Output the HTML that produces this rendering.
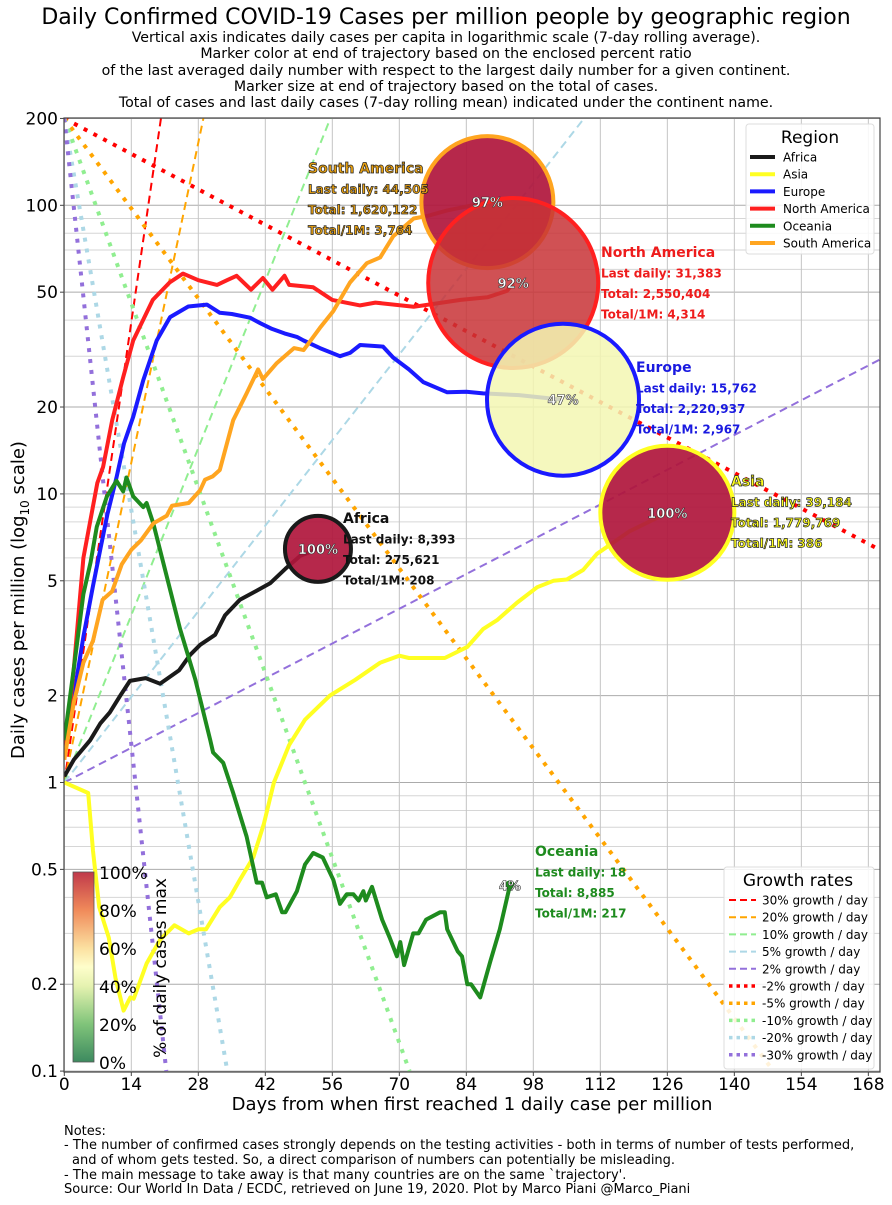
<!DOCTYPE html>
<html><head><meta charset="utf-8">
<style>
body{margin:0;background:#fff;}
svg text{font-family:"DejaVu Sans","Liberation Sans",sans-serif;}
</style></head>
<body>
<svg id="chart" width="892" height="1200" viewBox="0 0 892 1200" xmlns="http://www.w3.org/2000/svg">
<defs>
<clipPath id="plotclip"><rect x="64" y="118" width="816" height="954"/></clipPath>
<linearGradient id="cbgrad" x1="0" y1="1" x2="0" y2="0">
<stop offset="0" stop-color="#3d8a5f"/>
<stop offset="0.2" stop-color="#80c47a"/>
<stop offset="0.4" stop-color="#e5f2b0"/>
<stop offset="0.5" stop-color="#fefecb"/>
<stop offset="0.6" stop-color="#fbe0a0"/>
<stop offset="0.8" stop-color="#f08a5a"/>
<stop offset="1" stop-color="#c0394a"/>
</linearGradient>
</defs>
<text x="446" y="24" font-size="22" text-anchor="middle">Daily Confirmed COVID-19 Cases per million people by geographic region</text>
<g font-size="14.2" text-anchor="middle">
<text x="446" y="42">Vertical axis indicates daily cases per capita in logarithmic scale (7-day rolling average).</text>
<text x="446" y="58">Marker color at end of trajectory based on the enclosed percent ratio</text>
<text x="446" y="75">of the last averaged daily number with respect to the largest daily number for a given continent.</text>
<text x="446" y="91">Marker size at end of trajectory based on the total of cases.</text>
<text x="446" y="107">Total of cases and last daily cases (7-day rolling mean) indicated under the continent name.</text>
</g>
<g id="grid"></g>
<g id="growth" clip-path="url(#plotclip)"></g>
<g id="series" clip-path="url(#plotclip)"></g>
<g id="bubbles"></g>
<g id="blabels"></g>
<rect x="64" y="118" width="816" height="954" fill="none" stroke="#444" stroke-width="1.2"/>
<g id="axes"></g>
<text transform="translate(24,600) rotate(-90)" font-size="18" text-anchor="middle">Daily cases per million (log<tspan font-size="12" dy="5">10</tspan><tspan dy="-5"> scale)</tspan></text>
<text x="472" y="1110" font-size="18" text-anchor="middle">Days from when first reached 1 daily case per million</text>
<g>
<rect x="73" y="872" width="21" height="190" fill="url(#cbgrad)" stroke="#555" stroke-width="0.8"/>
<g font-size="17">
<text x="99" y="879">100%</text><text x="99" y="917">80%</text><text x="99" y="955">60%</text>
<text x="99" y="993">40%</text><text x="99" y="1031">20%</text><text x="99" y="1069">0%</text>
</g>
<text transform="translate(166,968) rotate(-90)" font-size="17" text-anchor="middle">% of daily cases max</text>
</g>
<g>
<rect x="746" y="124" width="128" height="130" fill="#fff" fill-opacity="0.85" stroke="#ddd" rx="3"/>
<text x="810" y="143" font-size="17" text-anchor="middle">Region</text>
<g id="reglegend" font-size="12"></g>
</g>
<g>
<rect x="724" y="867" width="150" height="202" fill="#fff" fill-opacity="0.85" stroke="#ddd" rx="3"/>
<text x="798" y="886" font-size="17" text-anchor="middle">Growth rates</text>
<g id="grlegend" font-size="12"></g>
</g>
<g font-size="13">
<text x="64" y="1135">Notes:</text>
<text x="64" y="1149">- The number of confirmed cases strongly depends on the testing activities - both in terms of number of tests performed,</text>
<text x="72" y="1164">and of whom gets tested. So, a direct comparison of numbers can potentially be misleading.</text>
<text x="64" y="1179">- The main message to take away is that many countries are on the same `trajectory'.</text>
<text x="64" y="1193">Source: Our World In Data / ECDC, retrieved on June 19, 2020. Plot by Marco Piani @Marco_Piani</text>
</g>
</svg>
<script>
const NS='http://www.w3.org/2000/svg';
const xTicks=[0,14,28,42,56,70,84,98,112,126,140,154,168];
const yMajor=[0.1,0.2,0.5,1,2,5,10,20,50,100,200];
const yMajorLabels=['0.1','0.2','0.5','1','2','5','10','20','50','100','200'];
const yMinor=[0.3,0.4,0.6,0.7,0.8,0.9,3,4,6,7,8,9,30,40,60,70,80,90];
const growthRates=[0.30,0.20,0.10,0.05,0.02,-0.02,-0.05,-0.10,-0.20,-0.30];
const growthColors=['#ff0000','#ffa500','#90ee90','#add8e6','#9370db','#ff0000','#ffa500','#90ee90','#add8e6','#9370db'];
const regionNames=['Africa','Asia','Europe','North America','Oceania','South America'];
const regionColors=['#1a1a1a','#ffff22','#1a1aff','#ff2020','#1e8b1e','#ffa520'];

const africaDays=[0,2,5.4,7.5,9.5,11.7,13.7,17,20,24,26.3,28.4,31.5,33.6,36.7,40,43,46.2,49.3,53];
const africaVals=[1.05,1.2,1.4,1.6,1.75,2.0,2.25,2.3,2.2,2.45,2.77,3.0,3.25,3.8,4.3,4.6,4.9,5.5,6.1,6.45];
const asiaDays=[0,5,6,7.3,9.3,10.7,12.4,13.8,14.5,17.2,20,23,26,28,29.6,32.5,34.6,36.7,39.5,41.7,43.8,47,50.3,55.5,60.8,66,70,72,75.5,79.5,84.2,87.5,90.4,94.6,98.8,102.2,105,108.4,111.3,118,126];
const asiaVals=[1.0,0.92,0.58,0.37,0.29,0.21,0.162,0.18,0.178,0.236,0.285,0.32,0.30,0.31,0.31,0.37,0.40,0.46,0.55,0.72,1.0,1.35,1.65,2.0,2.27,2.6,2.75,2.7,2.7,2.7,2.95,3.4,3.65,4.2,4.75,5.0,5.05,5.45,6.2,7.4,8.6];
const europeDays=[0,2,4,6,7.5,9,10.9,12.5,14.4,16.5,19.3,22.1,25.9,29.8,32.5,35,38.8,41,43.4,46,48.6,50,53.4,57.6,59.7,61.8,66.6,68.7,72,75,80,84,87.5,95,104.2];
const europeVals=[1.3,2.0,3.2,4.8,6.4,8.5,11.4,15,18.5,24.8,34,41,44.6,45.3,42.4,42,40.8,39,37.3,36,35,34,32,30,30.8,32.8,32.4,29.7,27,24.4,22.5,22.6,22.3,22,21.2];
const namDays=[0,2,4,6.9,8.1,10,12.3,14.4,18.5,22,24.8,28,31.9,34,36,39,41.5,43.5,46,47,52,56,61.8,65,73,77,82.8,88.4,92.5,93.8];
const namVals=[1.2,2.5,6,10.9,12.4,18,25.4,34,47,54,58,55,53,55,57,51,56,51,57,53,52,47,45,46,44.5,45.5,47,48,50.5,53.8];
const oceDays=[0,2,4,5.5,6.8,8.9,10.9,12.3,13,14.4,16.5,17.2,18.6,21,24.2,27.4,30.5,31.1,33.2,35.3,38.1,40.2,41.3,42.3,44.2,45.5,46.2,48.6,50.3,52,54,56.2,57.6,59,60.4,61.5,62.5,63,64.3,66.4,68,69.5,70.2,71,72.9,74,75.6,78.5,79.5,80,82.2,83.1,84.2,85,86.9,89,91,93.1];
const oceVals=[1.4,2.5,4.5,5.8,7.7,9.8,11.1,10.2,11.4,9.8,9.0,9.3,7.9,5.5,3.4,2.27,1.4,1.27,1.17,0.92,0.65,0.45,0.45,0.40,0.41,0.355,0.355,0.42,0.52,0.57,0.55,0.46,0.38,0.41,0.41,0.39,0.42,0.39,0.435,0.335,0.29,0.25,0.28,0.233,0.3,0.3,0.335,0.355,0.355,0.31,0.26,0.25,0.20,0.20,0.18,0.24,0.31,0.44];
const samDays=[0,2,4,6,8,10,12,14,16,18.6,21.4,22.5,26,28.4,29.4,31,32.5,35.3,38.1,40.5,41.5,44.4,48,50,53.4,56.2,59.7,63.2,66,68.7,73,76,80,84,88.4];
const samVals=[1.2,1.9,2.6,3.1,4.3,4.6,5.7,6.4,6.9,7.9,8.4,9.1,9.3,10.3,11.2,11.5,12.1,18,22.3,27,25,28.4,32,31.5,37.6,43,54,63,66,78,90,92,96,99,102.6];

const xS=d=>64.3+d*4.786;
const yS=v=>782.5-Math.log10(v)*288.6;
function mk(tag,attrs,parent){const e=document.createElementNS(NS,tag);for(const k in attrs)e.setAttribute(k,attrs[k]);parent.appendChild(e);return e;}

const grid=document.getElementById('grid');
yMinor.forEach(v=>{const l=mk('line',{x1:64,x2:880,y1:yS(v),y2:yS(v),stroke:'#d6d6d6','stroke-width':1},grid);

});
yMajor.forEach(v=>{const l=mk('line',{x1:64,x2:880,y1:yS(v),y2:yS(v),stroke:'#ababab','stroke-width':1},grid);

});
xTicks.forEach(d=>{const l=mk('line',{x1:xS(d),x2:xS(d),y1:118,y2:1072,stroke:'#c4c4c4','stroke-width':1},grid);

});

const axes=document.getElementById('axes');
yMajor.forEach((v,i)=>{const t=mk('text',{x:58,y:yS(v)+6,'font-size':17,'text-anchor':'end'},axes);t.textContent=yMajorLabels[i];


mk('line',{x1:60,x2:64,y1:yS(v),y2:yS(v),stroke:'#444'},axes);});
xTicks.forEach(d=>{const t=mk('text',{x:xS(d),y:1090,'font-size':17,'text-anchor':'middle'},axes);t.textContent=String(d);


mk('line',{x1:xS(d),x2:xS(d),y1:1072,y2:1076,stroke:'#444'},axes);});

const gg=document.getElementById('growth');
growthRates.forEach((r,i)=>{
  let d0,v0,d1;
  if(r>0){d0=0;v0=1;d1=Math.log(200)/Math.log(1+r);}
  else{d0=0;v0=200;d1=Math.min(172,Math.log(0.1/200)/Math.log(1+r));}
  const v1=v0*Math.pow(1+r,d1-d0);
  const dot=r<0;
  const l=mk('line',{x1:xS(d0),y1:yS(v0),x2:xS(d1),y2:yS(v1),stroke:growthColors[i],'stroke-width':dot?4:2,'stroke-dasharray':dot?'4,7':'8,5'},gg);
  
  
});

const sg=document.getElementById('series');
const allDays=[africaDays,asiaDays,europeDays,namDays,oceDays,samDays];
const allVals=[africaVals,asiaVals,europeVals,namVals,oceVals,samVals];
allDays.forEach((ds,i)=>{
  const pts=ds.map((d,j)=>xS(d).toFixed(1)+','+yS(allVals[i][j]).toFixed(1)).join(' ');
  const p=mk('polyline',{points:pts,fill:'none',stroke:regionColors[i],'stroke-width':4,'stroke-linejoin':'round'},sg);
  
  
});

const bubbleRegion=[5,3,2,0,1,4];
const bubbleRadius=[66,85,76,33,67,3];
const bubbleFill=['#b0163c','#c83236','#f3f7b3','#b0163c','#b0163c','#2a8a2a'];
const bubblePct=['97%','92%','47%','100%','100%','4%'];
const bubbleAlpha=[0.92,0.85,0.85,0.92,0.92,0.92];
const bg=document.getElementById('bubbles');
const bl=document.getElementById('blabels');
bubbleRegion.forEach((ri,k)=>{
  const ds=allDays[ri],vs=allVals[ri];
  const cx=xS(ds[ds.length-1]),cy=yS(vs[vs.length-1]);
  const c=mk('circle',{cx:cx,cy:cy,r:bubbleRadius[k],fill:bubbleFill[k],'fill-opacity':bubbleAlpha[k],stroke:regionColors[ri],'stroke-width':4},bg);
  
  
  const t=mk('text',{x:cx,y:cy+5,'font-size':13,'font-weight':'bold','text-anchor':'middle',fill:'#fff',stroke:'#333','stroke-width':0.6},bl);
  t.textContent=bubblePct[k];
  
  
});

const ann=[
 {x:308,y:173,c:'#e8a010',s:'#222',l:['South America','Last daily: 44,505','Total: 1,620,122','Total/1M: 3,764']},
 {x:601,y:257,c:'#ee1c1c',s:null,l:['North America','Last daily: 31,383','Total: 2,550,404','Total/1M: 4,314']},
 {x:636,y:372,c:'#1a1ae0',s:null,l:['Europe','Last daily: 15,762','Total: 2,220,937','Total/1M: 2,967']},
 {x:731,y:486,c:'#ffff20',s:'#222',l:['Asia','Last daily: 39,184','Total: 1,779,769','Total/1M: 386']},
 {x:343,y:523,c:'#111',s:null,l:['Africa','Last daily: 8,393','Total: 275,621','Total/1M: 208']},
 {x:535,y:856,c:'#1e8b1e',s:null,l:['Oceania','Last daily: 18','Total: 8,885','Total/1M: 217']}
];
ann.forEach(a=>{
  a.l.forEach((txt,j)=>{
    const at={x:a.x,y:a.y+j*20.5,'font-size':j?12:14,'font-weight':'bold',fill:a.c};
    if(a.s){at.stroke=a.s;at['stroke-width']=0.7;}
    const t=mk('text',at,bl);t.textContent=txt;
    
    
  });
});

const rl=document.getElementById('reglegend');
regionNames.forEach((n,i)=>{
  const y=157+i*17.2;
  mk('line',{x1:750,x2:775,y1:y,y2:y,stroke:regionColors[i],'stroke-width':4},rl);
  const t=mk('text',{x:783,y:y+4.5},rl);t.textContent=n;
  
  
});
const gl=document.getElementById('grlegend');
growthRates.forEach((r,i)=>{
  const y=900+i*17.2;const dot=r<0;
  mk('line',{x1:729,x2:756,y1:y,y2:y,stroke:growthColors[i],'stroke-width':dot?3.5:2,'stroke-dasharray':dot?'3.5,4':'7,4'},gl);
  const t=mk('text',{x:762,y:y+4.5},gl);t.textContent=Math.round(r*100)+'% growth / day';
  
  
});
</script>
</body></html>
